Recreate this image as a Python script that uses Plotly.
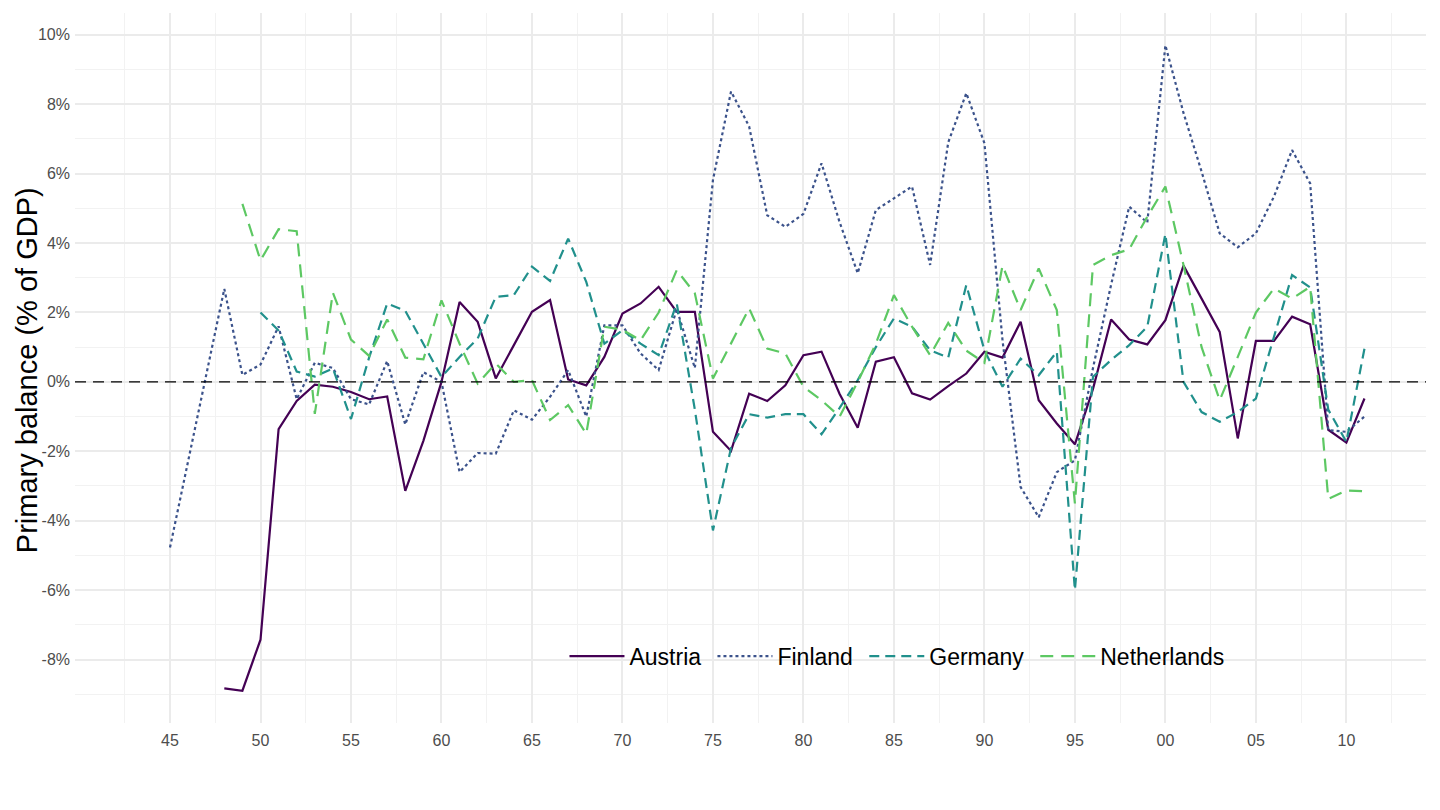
import plotly.graph_objects as go

years = list(range(1945, 2012))

austria = [None, None, None,
           -8.83, -8.9, -7.43, -1.36, -0.55, -0.08, -0.14, -0.29, -0.5, -0.42, -3.14, -1.7,
           0.0, 2.3, 1.73, 0.1, 1.06, 2.02, 2.36, 0.07, -0.1, 0.72,
           1.97, 2.26, 2.74, 2.02, 2.02, -1.44, -1.99, -0.34, -0.55, -0.1,
           0.77, 0.87, -0.35, -1.32, 0.58, 0.71, -0.33, -0.51, -0.12, 0.24,
           0.87, 0.7, 1.73, -0.53, -1.2, -1.8, -0.2, 1.8, 1.22, 1.08,
           1.78, 3.35, 2.4, 1.44, -1.63, 1.18, 1.18, 1.88, 1.66, -1.38,
           -1.75, -0.48]

finland = [-4.77, -2.3, 0.15, 2.68, 0.2, 0.5, 1.6, -0.5, 0.55, 0.4, -0.5, -0.65, 0.6, -1.23, 0.28,
           0.0, -2.6, -2.05, -2.07, -0.82, -1.09, -0.43, 0.34, -1.0, 1.63,
           1.63, 0.82, 0.34, 2.1, 0.4, 5.82, 8.37, 7.36, 4.8, 4.47,
           4.84, 6.3, 4.6, 3.13, 4.95, 5.29, 5.63, 3.37, 6.9, 8.32,
           6.88, 1.2, -3.03, -3.9, -2.6, -2.26, 0.4, 2.8, 5.05, 4.59,
           9.7, 7.75, 6.06, 4.28, 3.88, 4.28, 5.34, 6.68, 5.72, -1.39,
           -1.44, -1.0]

germany = [None, None, None, None, None,
           2.0, 1.48, 0.3, 0.15, 0.39, -1.07, 0.7, 2.26, 2.05, 1.1,
           0.14, 0.72, 1.25, 2.45, 2.5, 3.32, 2.91, 4.13, 2.88, 1.1,
           1.49, 1.1, 0.77, 2.26, -0.8, -4.28, -1.9, -0.93, -1.03, -0.93,
           -0.93, -1.51, -0.75, 0.05, 1.0, 1.83, 1.59, 0.91, 0.7, 2.79,
           0.91, -0.14, 0.67, 0.19, 0.87, -6.0, 0.15, 0.63, 1.06, 1.59,
           4.26, 0.0, -0.87, -1.15, -0.87, -0.48, 1.3, 3.08, 2.72, -0.8,
           -1.73, 0.96]

netherlands = [None, None, None, None,
               5.13, 3.5, 4.4, 4.34, -0.92, 2.57, 1.22, 0.75, 1.8, 0.7, 0.65,
               2.35, 1.1, -0.05, 0.53, 0.0, 0.05, -1.1, -0.67, -1.5, 1.59,
               1.5, 1.2, 2.0, 3.22, 2.55, 0.1, 1.1, 2.12, 0.96, 0.82,
               -0.14, -0.53, -1.0, 0.0, 1.1, 2.5, 1.59, 0.77, 1.7, 0.9,
               0.55, 3.35, 2.07, 3.27, 2.07, -3.5, 3.37, 3.65, 3.82, 4.76,
               5.63, 3.37, 1.0, -0.53, 0.72, 2.0, 2.69, 2.4, 2.74, -3.37,
               -3.13, -3.15]

x_tick_vals = list(range(1945, 2011, 5))
x_tick_text = ["45", "50", "55", "60", "65", "70", "75", "80", "85", "90", "95", "00", "05", "10"]
y_tick_vals = list(range(-8, 11, 2))
y_tick_text = [f"{v}%" for v in y_tick_vals]

series = [
    ("Austria", austria, "#440154", "solid"),
    ("Finland", finland, "#3B528B", "3px,3px"),
    ("Germany", germany, "#21908C", "10px,6px"),
    ("Netherlands", netherlands, "#5DC863", "13px,8px"),
]

fig = go.Figure()
for name, vals, color, dash in series:
    fig.add_trace(go.Scatter(
        x=years, y=vals, mode="lines", name=name + "\u00a0",
        line=dict(color=color, width=2.2, dash=dash),
        connectgaps=False,
    ))

fig.add_shape(type="line", xref="paper", yref="y", x0=0, x1=1, y0=0, y1=0,
              line=dict(color="black", width=1.3, dash="11px,7px"), layer="above")

font_family = "Liberation Sans, Arial, Helvetica, sans-serif"

# page body has an 8px margin: figure is 1432x802 placed at (8,8)
fig.update_layout(
    width=1432, height=802,
    margin=dict(l=67, r=14, t=5, b=87),
    paper_bgcolor="white", plot_bgcolor="white",
    font=dict(family=font_family, color="#4D4D4D", size=16),
    showlegend=True,
    legend=dict(orientation="h", x=0.611, y=0.094, xanchor="center", yanchor="middle",
                font=dict(size=23, color="black", family=font_family),
                bgcolor="rgba(0,0,0,0)", itemwidth=55),
    xaxis=dict(range=[1939.75, 2014.4], tickmode="array", tickvals=x_tick_vals,
               ticktext=x_tick_text, showgrid=True, gridcolor="#EBEBEB", gridwidth=2,
               zeroline=False, showline=False, ticks="", ticklabelstandoff=6,
               automargin=False,
               minor=dict(tickmode="array", tickvals=[v - 2.5 for v in x_tick_vals] + [2012.5],
                          showgrid=True, gridcolor="#F2F2F2", gridwidth=1)),
    yaxis=dict(range=[-9.83, 10.63], tickmode="array", tickvals=y_tick_vals,
               ticktext=y_tick_text, showgrid=True, gridcolor="#EBEBEB", gridwidth=2,
               zeroline=False, showline=False, ticks="", ticklabelstandoff=4,
               automargin=False,
               minor=dict(tickmode="array", tickvals=[v + 1 for v in range(-10, 10, 2)],
                          showgrid=True, gridcolor="#F2F2F2", gridwidth=1)),
    annotations=[dict(text="Primary balance (% of GDP)", xref="paper", yref="paper",
                      x=-0.0355, y=0.497, xanchor="center", yanchor="middle",
                      textangle=-90, showarrow=False,
                      font=dict(size=29, color="black", family=font_family))],
)

fig.write_html("out.html")
